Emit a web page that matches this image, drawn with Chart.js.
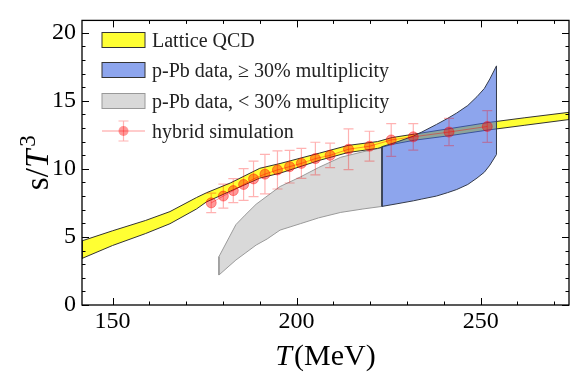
<!DOCTYPE html>
<html>
<head>
<meta charset="utf-8">
<script src="https://cdn.jsdelivr.net/npm/chart.js@4.4.0/dist/chart.umd.min.js"></script>
<style>
  body { margin: 0; background: #fff; }
</style>
</head>
<body>
<canvas id="entropy" width="582" height="385"></canvas>
<script>
// lattice QCD band (T in MeV, lower / upper edge of s/T^3)
var latticeT = [141.7, 150, 159, 165.6, 172.8, 175.5, 182, 190, 195.5, 206.3, 214, 222, 226, 232, 242, 252, 262, 274];
var latticeLow = [3.42, 4.37, 5.25, 5.97, 7.05, 7.57, 8.36, 9.32, 9.68, 10.63, 11.2, 11.5, 11.8, 12.1, 12.45, 12.85, 13.2, 13.62];
var latticeHigh = [4.71, 5.45, 6.21, 6.86, 7.89, 8.24, 8.96, 10.04, 10.39, 11.16, 11.72, 12.0, 12.3, 12.55, 12.97, 13.4, 13.75, 14.15];

// p-Pb data, >= 30% multiplicity
var highMultT = [223.2, 227, 231.7, 234, 238, 241, 243.5, 246.5, 249, 251, 252.5, 254.3];
var highMultLow = [7.24, 7.42, 7.65, 7.78, 8.0, 8.25, 8.48, 8.85, 9.32, 9.75, 10.27, 11.05];
var highMultHigh = [11.63, 11.95, 12.4, 12.7, 13.26, 13.7, 14.1, 14.65, 15.3, 15.9, 16.6, 17.56];

// p-Pb data, < 30% multiplicity
var lowMultT = [178.9, 183.5, 186, 189, 192, 195.5, 201, 206, 212, 218, 223.2];
var lowMultLow = [2.2, 3.3, 3.8, 4.4, 4.85, 5.5, 5.97, 6.4, 6.8, 7.05, 7.24];
var lowMultHigh = [3.55, 5.9, 6.6, 7.4, 8.0, 8.7, 9.4, 10.1, 10.85, 11.25, 11.55];

// hybrid simulation
var simT = [176.8, 180.1, 182.8, 185.6, 188.3, 191.4, 194.8, 198.1, 201.3, 205.1, 209.1, 214.1, 219.8, 225.7, 231.7, 241.4, 251.8];
var simS = [7.5, 8.0, 8.4, 8.85, 9.26, 9.61, 9.92, 10.16, 10.4, 10.75, 10.99, 11.44, 11.66, 12.12, 12.35, 12.7, 13.11];
var simErr = [0.72, 0.88, 0.88, 1.17, 1.3, 1.45, 1.4, 1.2, 1.1, 1.2, 0.9, 1.5, 1.1, 1.2, 0.97, 1.0, 1.17];

var xTicks = [150, 200, 250];
var xMinor = [150, 160, 170, 180, 190, 200, 210, 220, 230, 240, 250, 260, 270];
var yTicks = [0, 5, 10, 15, 20];

var legendLabels = ['Lattice QCD', 'p-Pb data, \u2265 30% multiplicity', 'p-Pb data, < 30% multiplicity', 'hybrid simulation'];

var serif = '"Liberation Serif", "DejaVu Serif", serif';
var yellowFill = '#ffff33';
var blueFill = 'rgba(65,105,225,0.6)';
var greyFill = '#d9d9d9';
var simColor = 'rgba(255,0,0,0.4)';
var barColor = 'rgba(255,0,0,0.3)';

function polygon(t, lo, hi) {
  var pts = [];
  for (var i = 0; i < t.length; i++) pts.push({ x: t[i], y: lo[i] });
  for (var j = t.length - 1; j >= 0; j--) pts.push({ x: t[j], y: hi[j] });
  pts.push({ x: t[0], y: lo[0] });
  return pts;
}

var simPoints = simT.map(function (t, i) { return { x: t, y: simS[i] }; });

// inward ticks, frame, error bars, axis titles and legend
var decorations = {
  id: 'decorations',
  afterDatasetsDraw: function (chart) {
    var ctx = chart.ctx, xs = chart.scales.x, ys = chart.scales.y;
    ctx.save();
    ctx.strokeStyle = barColor;
    ctx.lineWidth = 1.2;
    for (var i = 0; i < simT.length; i++) {
      var x = xs.getPixelForValue(simT[i]);
      var top = ys.getPixelForValue(simS[i] + simErr[i]);
      var bot = ys.getPixelForValue(simS[i] - simErr[i]);
      ctx.beginPath();
      ctx.moveTo(x, top); ctx.lineTo(x, bot);
      ctx.moveTo(x - 5, top); ctx.lineTo(x + 5, top);
      ctx.moveTo(x - 5, bot); ctx.lineTo(x + 5, bot);
      ctx.stroke();
    }
    ctx.restore();
  },
  afterDraw: function (chart) {
    var ctx = chart.ctx, a = chart.chartArea, xs = chart.scales.x, ys = chart.scales.y;
    ctx.save();
    ctx.strokeStyle = '#000';
    ctx.lineWidth = 1;
    ctx.beginPath();
    xMinor.forEach(function (v) {
      var x = Math.round(xs.getPixelForValue(v)) + 0.5;
      var len = xTicks.indexOf(v) >= 0 ? 7 : 3.5;
      ctx.moveTo(x, a.bottom); ctx.lineTo(x, a.bottom - len);
      ctx.moveTo(x, a.top); ctx.lineTo(x, a.top + len);
    });
    for (var v = 0; v <= 20; v++) {
      var y = Math.round(ys.getPixelForValue(v)) + 0.5;
      var len = v % 5 === 0 ? 7 : 3.5;
      ctx.moveTo(a.left, y); ctx.lineTo(a.left + len, y);
      ctx.moveTo(a.right, y); ctx.lineTo(a.right - len, y);
    }
    ctx.stroke();
    ctx.lineWidth = 1.3;
    ctx.strokeRect(a.left, a.top, a.right - a.left, a.bottom - a.top);

    // x title: T(MeV)
    ctx.fillStyle = '#000';
    ctx.textBaseline = 'alphabetic';
    var cx = (a.left + a.right) / 2;
    ctx.font = 'italic 30px ' + serif;
    var wT = ctx.measureText('T').width;
    ctx.font = '30px ' + serif;
    var wM = ctx.measureText('(MeV)').width;
    var x0 = cx - (wT + wM + 2) / 2;
    ctx.font = 'italic 30px ' + serif;
    ctx.fillText('T', x0, 365);
    ctx.font = '30px ' + serif;
    ctx.fillText('(MeV)', x0 + wT + 2, 365);

    // y title: s/T^3
    ctx.save();
    ctx.translate(48, (a.top + a.bottom) / 2);
    ctx.rotate(-Math.PI / 2);
    ctx.font = '33px ' + serif;
    var ws = ctx.measureText('s/').width;
    ctx.font = 'italic 33px ' + serif;
    var wt = ctx.measureText('T').width;
    ctx.font = '23px ' + serif;
    var w3 = ctx.measureText('3').width;
    var sx = -(ws + wt + w3 + 3) / 2;
    ctx.font = '33px ' + serif;
    ctx.fillText('s/', sx, 0);
    ctx.font = 'italic 33px ' + serif;
    ctx.fillText('T', sx + ws, 0);
    ctx.font = '23px ' + serif;
    ctx.fillText('3', sx + ws + wt + 3, -13);
    ctx.restore();

    // legend
    var rows = [40, 70, 101, 131];
    var fills = [yellowFill, blueFill, greyFill];
    var edges = ['#333', '#333', '#999'];
    for (var r = 0; r < 3; r++) {
      ctx.fillStyle = fills[r];
      ctx.fillRect(102, rows[r] - 7.5, 43, 15);
      ctx.strokeStyle = edges[r];
      ctx.lineWidth = 1;
      ctx.strokeRect(102, rows[r] - 7.5, 43, 15);
    }
    var ly = rows[3];
    ctx.strokeStyle = simColor;
    ctx.lineWidth = 1;
    ctx.beginPath(); ctx.moveTo(102, ly); ctx.lineTo(145, ly); ctx.stroke();
    ctx.strokeStyle = barColor;
    ctx.lineWidth = 1.2;
    ctx.beginPath();
    ctx.moveTo(123.5, ly - 10); ctx.lineTo(123.5, ly + 10);
    ctx.moveTo(118.5, ly - 10); ctx.lineTo(128.5, ly - 10);
    ctx.moveTo(118.5, ly + 10); ctx.lineTo(128.5, ly + 10);
    ctx.stroke();
    ctx.fillStyle = simColor;
    ctx.beginPath(); ctx.arc(123.5, ly, 5, 0, Math.PI * 2); ctx.fill();

    ctx.fillStyle = '#222';
    ctx.font = '20px ' + serif;
    for (var k = 0; k < legendLabels.length; k++) {
      ctx.fillText(legendLabels[k], 152, rows[k] + 6.6);
    }
    ctx.restore();
  }
};

var ctx = document.getElementById('entropy');

new Chart(ctx, {
  type: 'line',
  data: {
    datasets: [
      {
        label: 'hybrid simulation',
        data: simPoints,
        borderColor: simColor,
        borderWidth: 1,
        pointRadius: 5,
        pointBackgroundColor: simColor,
        pointBorderColor: simColor,
        pointBorderWidth: 1,
        fill: false,
        order: 0
      },
      {
        label: 'p-Pb data, >= 30% multiplicity',
        data: polygon(highMultT, highMultLow, highMultHigh),
        borderColor: '#333a4a',
        borderWidth: 1,
        backgroundColor: blueFill,
        pointRadius: 0,
        fill: 'shape',
        order: 1
      },
      {
        label: 'Lattice QCD',
        data: polygon(latticeT, latticeLow, latticeHigh),
        borderColor: '#333',
        borderWidth: 1,
        backgroundColor: yellowFill,
        pointRadius: 0,
        fill: 'shape',
        order: 2
      },
      {
        label: 'p-Pb data, < 30% multiplicity',
        data: polygon(lowMultT, lowMultLow, lowMultHigh),
        borderColor: '#9a9a9a',
        borderWidth: 1,
        backgroundColor: greyFill,
        pointRadius: 0,
        fill: 'shape',
        order: 3
      }
    ]
  },
  options: {
    responsive: false,
    animation: false,
    layout: { padding: { top: 13, right: 13, left: 0, bottom: 0 } },
    elements: { line: { tension: 0 } },
    plugins: {
      legend: { display: false },
      tooltip: { enabled: false }
    },
    scales: {
      x: {
        type: 'linear',
        min: 141.7,
        max: 274,
        grid: { display: false, drawTicks: false },
        border: { display: false },
        afterBuildTicks: function (s) { s.ticks = xTicks.map(function (v) { return { value: v }; }); },
        afterFit: function (s) { s.height = 80; },
        ticks: { padding: 2, color: '#000', maxRotation: 0, font: { family: serif, size: 24 } }
      },
      y: {
        type: 'linear',
        min: 0,
        max: 20.9,
        grid: { display: false, drawTicks: false },
        border: { display: false },
        afterBuildTicks: function (s) { s.ticks = yTicks.map(function (v) { return { value: v }; }); },
        afterFit: function (s) { s.width = 82; },
        ticks: { padding: 6, color: '#000', font: { family: serif, size: 24 } }
      }
    }
  },
  plugins: [decorations]
});
</script>
</body>
</html>
